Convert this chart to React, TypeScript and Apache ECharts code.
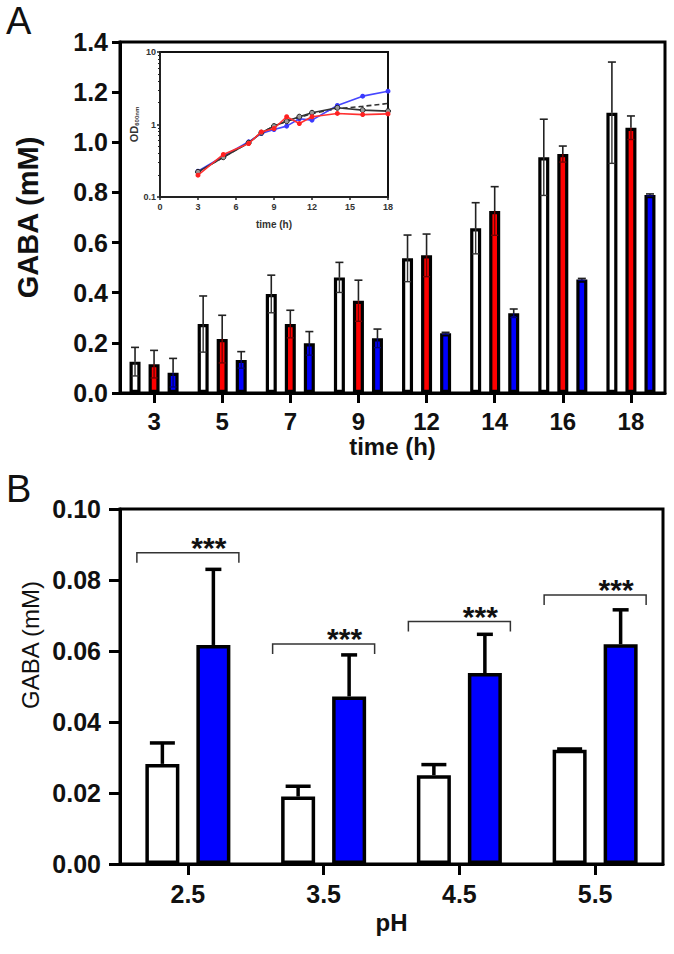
import React, { useEffect, useRef } from "react";
import * as echarts from "echarts";

// ---------- Panel A: GABA vs time ----------
const timeCats = ["3", "5", "7", "9", "12", "14", "16", "18"];
const whiteA = [0.125, 0.275, 0.395, 0.461, 0.537, 0.657, 0.94, 1.118];
const whiteErrA = [0.057, 0.112, 0.075, 0.06, 0.093, 0.102, 0.152, 0.202];
const redA = [0.115, 0.215, 0.275, 0.368, 0.549, 0.726, 0.953, 1.058];
const redErrA = [0.055, 0.095, 0.055, 0.082, 0.085, 0.097, 0.032, 0.047];
const blueA = [0.081, 0.132, 0.198, 0.218, 0.238, 0.318, 0.453, 0.79];
const blueErrA = [0.057, 0.033, 0.047, 0.037, 0.004, 0.017, 0.004, 0.004];

// ---------- Inset: OD600 growth curves ----------
const insetTime = [3, 5, 7, 8, 9, 10, 11, 12, 14, 16, 18];
const odBlue = [0.227, 0.366, 0.577, 0.75, 0.853, 0.95, 1.2, 1.15, 1.83, 2.46, 2.88];
const odRed = [0.2, 0.386, 0.547, 0.79, 0.88, 1.28, 1.03, 1.28, 1.42, 1.37, 1.4];
const odBlack = [0.222, 0.354, 0.56, 0.77, 0.95, 1.11, 1.28, 1.45, 1.7, 1.58, 1.53];
const odDashed = [0.222, 0.354, 0.56, 0.77, 0.95, 1.11, 1.25, 1.42, 1.65, 1.78, 1.95];
const insetXTicks = [0, 3, 6, 9, 12, 15, 18];

// ---------- Panel B: GABA vs pH ----------
const phCats = ["2.5", "3.5", "4.5", "5.5"];
const whiteB = [0.0282, 0.019, 0.025, 0.0322];
const whiteErrB = [0.0059, 0.0029, 0.003, 0.0002];
const blueB = [0.0617, 0.0472, 0.0538, 0.0619];
const blueErrB = [0.0213, 0.0117, 0.0109, 0.0097];
const bracketB = [0.0877, 0.062, 0.0683, 0.0758];
const sigB = ["***", "***", "***", "***"];

const FONT = "Liberation Sans, Arial, Helvetica, sans-serif";

const BAR_A = 11;
const GAP_A = 0.73;
const STEP_A = BAR_A * (1 + GAP_A);
const BAR_B = 34;
const GAP_B = 0.5;
const STEP_B = BAR_B * (1 + GAP_B);

function errRender(
  offset: number,
  capUp: number,
  capDown: number,
  upW: number,
  downW: number,
  upColor: string,
  downColor: string,
  showDown: boolean
) {
  return (params: any, api: any) => {
    const i = api.value(0);
    const m = api.value(1);
    const e = api.value(2);
    const c = api.coord([i, m]);
    const t = api.coord([i, m + e]);
    const b = api.coord([i, Math.max(0, m - e)]);
    const x = c[0] + offset;
    const children: any[] = [
      { type: "line", shape: { x1: x, y1: c[1], x2: x, y2: t[1] }, style: { stroke: upColor, lineWidth: upW } },
      { type: "line", shape: { x1: x - capUp / 2, y1: t[1], x2: x + capUp / 2, y2: t[1] }, style: { stroke: upColor, lineWidth: upW } },
    ];
    if (showDown) {
      children.push(
        { type: "line", shape: { x1: x, y1: c[1], x2: x, y2: b[1] }, style: { stroke: downColor, lineWidth: downW } },
        { type: "line", shape: { x1: x - capDown / 2, y1: b[1], x2: x + capDown / 2, y2: b[1] }, style: { stroke: downColor, lineWidth: downW } }
      );
    }
    return { type: "group", children };
  };
}

function errSeries(xi: number, yi: number, means: number[], errs: number[], render: any) {
  return {
    type: "custom",
    xAxisIndex: xi,
    yAxisIndex: yi,
    z: 5,
    data: means.map((m, i) => [i, m, errs[i]]),
    encode: { x: 0, y: 1 },
    renderItem: render,
  };
}

export default function App() {
  const ref = useRef<HTMLDivElement>(null);
  useEffect(() => {
    if (!ref.current) return;
    const chart = echarts.init(ref.current, null, { renderer: "svg", width: 674, height: 954 });

    const axisLine3 = { show: true, lineStyle: { color: "#000", width: 3 } };
    const tick3 = { show: true, inside: false, length: 8, lineStyle: { color: "#000", width: 3 } };
    const tickLabel = (size: number) => ({
      fontSize: size,
      fontWeight: "bold" as const,
      color: "#111",
      fontFamily: FONT,
    });

    const option: any = {
      animation: false,
      backgroundColor: "#fff",
      grid: [
        { left: 120, top: 42, width: 545, height: 351, show: true, borderColor: "#000", borderWidth: 3, backgroundColor: "transparent" },
        { left: 160, top: 52, width: 228, height: 145, show: true, borderColor: "#111", borderWidth: 2, backgroundColor: "#fff" },
        { left: 120, top: 509, width: 543, height: 355, show: true, borderColor: "#000", borderWidth: 3, backgroundColor: "transparent" },
      ],
      xAxis: [
        {
          gridIndex: 0,
          type: "category",
          data: timeCats,
          axisLine: axisLine3,
          axisTick: { ...tick3, alignWithLabel: true, length: 10 },
          axisLabel: { ...tickLabel(24), margin: 16 },
          splitLine: { show: false },
          name: "time (h)",
          nameLocation: "middle",
          nameGap: 41,
          nameTextStyle: { fontSize: 24, fontWeight: "bold", color: "#111", fontFamily: FONT },
        },
        {
          gridIndex: 1,
          type: "value",
          min: 0,
          max: 18,
          interval: 3,
          axisLine: { show: true, lineStyle: { color: "#222", width: 2 } },
          axisTick: { show: true, length: 3, lineStyle: { color: "#222", width: 1.5 } },
          axisLabel: {
            fontSize: 9,
            fontWeight: "bold",
            color: "#333",
            fontFamily: FONT,
            margin: 5,
            formatter: (v: number) => (insetXTicks.indexOf(v) >= 0 ? String(v) : ""),
          },
          splitLine: { show: false },
          name: "time (h)",
          nameLocation: "middle",
          nameGap: 22,
          nameTextStyle: { fontSize: 10, fontWeight: "bold", color: "#333", fontFamily: FONT },
        },
        {
          gridIndex: 2,
          type: "category",
          data: phCats,
          axisLine: axisLine3,
          axisTick: { ...tick3, alignWithLabel: true, length: 11 },
          axisLabel: { ...tickLabel(25), margin: 17 },
          splitLine: { show: false },
          name: "pH",
          nameLocation: "middle",
          nameGap: 46,
          nameTextStyle: { fontSize: 24, fontWeight: "bold", color: "#111", fontFamily: FONT },
        },
      ],
      yAxis: [
        {
          gridIndex: 0,
          type: "value",
          min: 0,
          max: 1.4,
          interval: 0.2,
          axisLine: axisLine3,
          axisTick: tick3,
          axisLabel: { ...tickLabel(25), margin: 12, formatter: (v: number) => v.toFixed(1) },
          splitLine: { show: false },
          name: "GABA (mM)",
          nameLocation: "middle",
          nameGap: 78,
          nameTextStyle: { fontSize: 29, fontWeight: "bold", color: "#111", fontFamily: FONT },
        },
        {
          gridIndex: 1,
          type: "log",
          logBase: 10,
          min: 0.1,
          max: 10,
          axisLine: { show: true, lineStyle: { color: "#222", width: 2 } },
          axisTick: { show: true, length: 3, lineStyle: { color: "#222", width: 1.5 } },
          minorTick: { show: true, splitNumber: 9, length: 2, lineStyle: { color: "#222", width: 1 } },
          axisLabel: {
            fontSize: 9,
            fontWeight: "bold",
            color: "#333",
            fontFamily: FONT,
            margin: 4,
            formatter: (v: number) => (v >= 1 ? v.toFixed(0) : v.toFixed(1)),
          },
          splitLine: { show: false },
          name: "{a|OD}{b|600nm}",
          nameLocation: "middle",
          nameGap: 20,
          nameTextStyle: {
            fontFamily: FONT,
            rich: {
              a: { fontSize: 11, fontWeight: "bold", color: "#333", fontFamily: FONT },
              b: { fontSize: 6, fontWeight: "bold", color: "#333", fontFamily: FONT, padding: [6, 0, 0, 0] },
            },
          },
        },
        {
          gridIndex: 2,
          type: "value",
          min: 0,
          max: 0.1,
          interval: 0.02,
          axisLine: axisLine3,
          axisTick: { ...tick3, length: 11 },
          axisLabel: { ...tickLabel(25), margin: 19, formatter: (v: number) => v.toFixed(2) },
          splitLine: { show: false },
        },
      ],
      graphic: [
        { type: "text", left: 6, top: 2, style: { text: "A", fontSize: 38, fontFamily: FONT, fill: "#111" } },
        { type: "text", left: 6, top: 470, style: { text: "B", fontSize: 38, fontFamily: FONT, fill: "#111" } },
        {
          type: "text",
          x: 30,
          y: 645,
          rotation: Math.PI / 2,
          style: {
            text: "GABA (mM)",
            fontSize: 24,
            fontFamily: FONT,
            fill: "#111",
            align: "center",
            verticalAlign: "middle",
          },
        },
      ],
      series: [
        // Panel A bars
        {
          type: "bar", xAxisIndex: 0, yAxisIndex: 0, data: whiteA, barWidth: BAR_A, barGap: GAP_A * 100 + "%",
          itemStyle: { color: "#fff", borderColor: "#000", borderWidth: 3.2 },
        },
        {
          type: "bar", xAxisIndex: 0, yAxisIndex: 0, data: redA, barWidth: BAR_A, barGap: GAP_A * 100 + "%",
          itemStyle: { color: "#ff0000", borderColor: "#000", borderWidth: 3.2 },
        },
        {
          type: "bar", xAxisIndex: 0, yAxisIndex: 0, data: blueA, barWidth: BAR_A, barGap: GAP_A * 100 + "%",
          itemStyle: { color: "#0000ff", borderColor: "#000", borderWidth: 3.2 },
        },
        errSeries(0, 0, whiteA, whiteErrA, errRender(-STEP_A, 8, 7, 1.6, 1.4, "#222", "#333", true)),
        errSeries(0, 0, redA, redErrA, errRender(0, 8, 7, 1.6, 1.4, "#222", "#7a0000", true)),
        errSeries(0, 0, blueA, blueErrA, errRender(STEP_A, 8, 7, 1.6, 1.4, "#222", "#00007a", true)),
        // Inset lines
        {
          type: "line", xAxisIndex: 1, yAxisIndex: 1, z: 4,
          data: insetTime.map((t, i) => [t, odDashed[i]]),
          showSymbol: false, symbol: "none",
          lineStyle: { color: "#333", width: 1.6, type: [5, 3] },
        },
        {
          type: "line", xAxisIndex: 1, yAxisIndex: 1, z: 5,
          data: insetTime.map((t, i) => [t, odBlue[i]]),
          symbol: "circle", symbolSize: 5,
          lineStyle: { color: "#4646ff", width: 1.6 },
          itemStyle: { color: "#3a3aff" },
        },
        {
          type: "line", xAxisIndex: 1, yAxisIndex: 1, z: 6,
          data: insetTime.map((t, i) => [t, odBlack[i]]),
          symbol: "circle", symbolSize: 5,
          lineStyle: { color: "#333", width: 1.6 },
          itemStyle: { color: "#999", borderColor: "#222", borderWidth: 1 },
        },
        {
          type: "line", xAxisIndex: 1, yAxisIndex: 1, z: 7,
          data: insetTime.map((t, i) => [t, odRed[i]]),
          symbol: "circle", symbolSize: 5,
          lineStyle: { color: "#ff3030", width: 1.6 },
          itemStyle: { color: "#ff2020" },
        },
        // Panel B bars
        {
          type: "bar", xAxisIndex: 2, yAxisIndex: 2, data: whiteB, barWidth: BAR_B, barGap: GAP_B * 100 + "%",
          itemStyle: { color: "#fff", borderColor: "#000", borderWidth: 3.5 },
        },
        {
          type: "bar", xAxisIndex: 2, yAxisIndex: 2, data: blueB, barWidth: BAR_B, barGap: GAP_B * 100 + "%",
          itemStyle: { color: "#0000ff", borderColor: "#000", borderWidth: 3.5 },
        },
        errSeries(2, 2, whiteB, whiteErrB, errRender(-STEP_B / 2, 25, 0, 3.5, 0, "#000", "#000", false)),
        errSeries(2, 2, blueB, blueErrB, errRender(STEP_B / 2, 16, 0, 3.5, 0, "#000", "#000", false)),
        // Significance brackets
        {
          type: "custom",
          xAxisIndex: 2,
          yAxisIndex: 2,
          z: 6,
          data: bracketB.map((y, i) => [i, y]),
          encode: { x: 0, y: 1 },
          renderItem: (params: any, api: any) => {
            const i = api.value(0);
            const p = api.coord([i, api.value(1)]);
            const x0 = p[0] - 51;
            const x1 = p[0] + 51;
            return {
              type: "group",
              children: [
                {
                  type: "polyline",
                  shape: { points: [[x0, p[1] + 10], [x0, p[1]], [x1, p[1]], [x1, p[1] + 10]] },
                  style: { stroke: "#333", lineWidth: 1.5, fill: "none" },
                },
                {
                  type: "text",
                  x: p[0] + 21,
                  y: p[1] + 10,
                  style: {
                    text: sigB[i],
                    fontSize: 30,
                    fontWeight: "bold",
                    fontFamily: FONT,
                    fill: "#111",
                    align: "center",
                    verticalAlign: "bottom",
                  },
                },
              ],
            };
          },
        },
      ],
    };
    chart.setOption(option);
    return () => chart.dispose();
  }, []);
  return (
    <div
      ref={ref}
      style={{ position: "fixed", left: 0, top: 0, width: 674, height: 954, background: "#fff" }}
    />
  );
}
